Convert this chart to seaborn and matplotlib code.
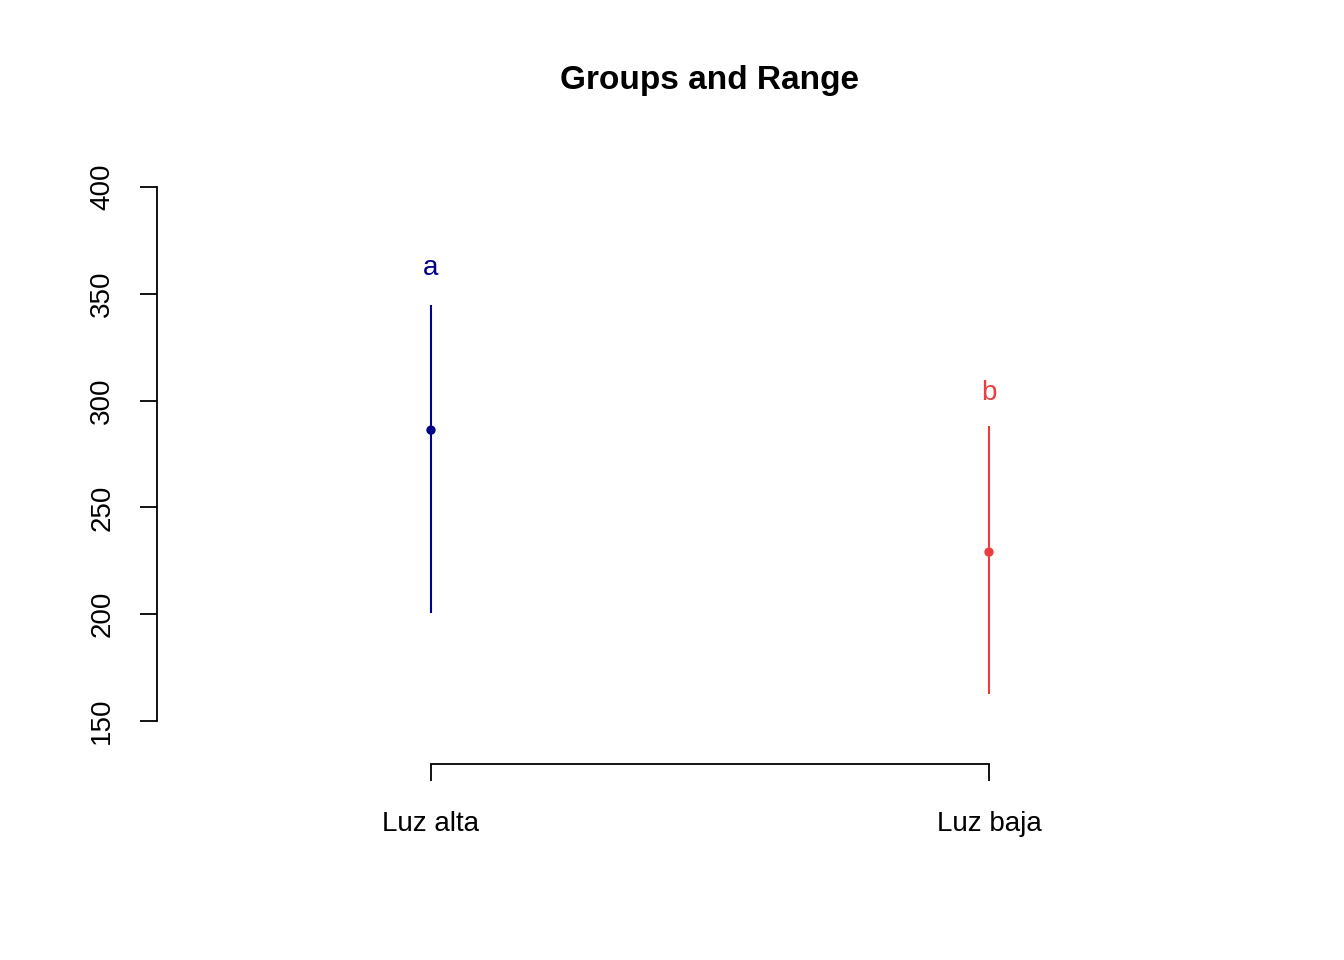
import matplotlib
matplotlib.use("Agg")
import matplotlib.pyplot as plt
import seaborn as sns
import pandas as pd

groups = ["Luz alta", "Luz baja"]
means = [286.2, 229.1]
mins = [200.6, 162.6]
maxs = [344.8, 288.1]
letters = ["a", "b"]
letter_y = [362, 303.6]
colors = ["#00008B", "#EE3B3B"]

sns.set_style("white")
plt.rcParams['font.family'] = ['Liberation Sans', 'DejaVu Sans']
plt.rcParams['text.color'] = 'black'
plt.rcParams['xtick.color'] = 'black'
plt.rcParams['ytick.color'] = 'black'

fig = plt.figure(figsize=(13.44, 9.6), dpi=100)
ax = fig.add_axes([157/1344, 1-764/960, (1263-157)/1344, (764-187)/960])
pos = [1, 2]
df = pd.DataFrame({"x": pos, "y": means, "g": groups})
sns.scatterplot(data=df, x="x", y="y", hue="g", palette=colors, s=45, edgecolor="none", legend=False, ax=ax, zorder=3)
for p, lo, hi, c, l, ly in zip(pos, mins, maxs, colors, letters, letter_y):
    ax.vlines(p, lo, hi, color=c, lw=1.5)
    ax.text(p, ly, l, color=c, fontsize=20, ha="center", va="center")

ax.set_xlim(0.509, 2.491)
ax.set_ylim(129.9, 400)
ax.set_xticks(pos)
ax.set_xticklabels(groups, fontsize=20)
ax.set_yticks([150, 200, 250, 300, 350, 400])
ax.set_yticklabels(["150", "200", "250", "300", "350", "400"], fontsize=20, rotation=90, va="center")
for s in ["top", "right"]:
    ax.spines[s].set_visible(False)
ax.spines["left"].set_bounds(150, 400)
ax.spines["bottom"].set_bounds(1, 2)
for s in ["left", "bottom"]:
    ax.spines[s].set_color("black")
    ax.spines[s].set_linewidth(1.3)
ax.tick_params(axis="both", length=12, width=1.3, color="black", direction="out", left=True, bottom=True)
ax.tick_params(axis="x", pad=22)
ax.tick_params(axis="y", pad=18)
ax.set_xlabel("")
ax.set_ylabel("")
fig.text(710/1344, 1-80/960, "Groups and Range", fontsize=24, fontweight="bold", ha="center", va="center")
fig.savefig("out.png", dpi=100)
